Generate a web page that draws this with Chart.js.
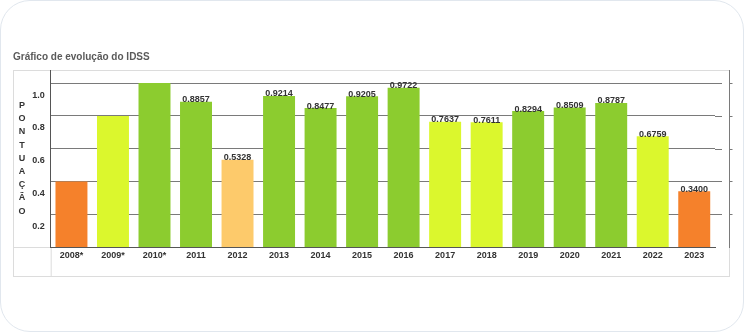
<!DOCTYPE html>
<html>
<head>
<meta charset="utf-8">
<script src="https://cdn.jsdelivr.net/npm/chart.js@4/dist/chart.umd.min.js"></script>
<style>
  html, body { margin: 0; background: #fff; }
  .card {
    position: absolute; left: 0; top: 0;
    width: 742px; height: 330px;
    border: 1px solid #e1e7ee; border-radius: 30px;
    background: #fff;
  }
  #wrap { position: absolute; left: 0; top: 0; width: 744px; height: 332px; }
</style>
</head>
<body>
<div class="card"></div>
<div id="wrap"><canvas id="idss"></canvas></div>
<script>
const anos = [
  "2008*", "2009*", "2010*", "2011", "2012", "2013", "2014", "2015",
  "2016", "2017", "2018", "2019", "2020", "2021", "2022", "2023",
];
const notas = [
  0.40, 0.80, 1.00, 0.8857, 0.5328, 0.9214, 0.8477, 0.9205,
  0.9722, 0.7637, 0.7611, 0.8294, 0.8509, 0.8787, 0.6759, 0.3400,
];
const faixas = [
  "laranja", "amarelo", "verde", "verde", "pessego", "verde", "verde", "verde",
  "verde", "amarelo", "amarelo", "verde", "verde", "verde", "amarelo", "laranja",
];
const yTicks = [0.2, 0.4, 0.6, 0.8, 1.0];
const eixoY = "PONTUAÇÃO";

const corFaixa = {
  laranja: "#f5812b",
  amarelo: "#dbf72d",
  verde: "#8ccc2f",
  pessego: "#fdca6b",
};

const fonte = { family: "'Liberation Sans', Arial, sans-serif", size: 9, weight: "bold" };
const fonteCss = "bold 9px 'Liberation Sans', Arial, sans-serif";

// moldura do painel, por baixo do grafico
const moldura = {
  id: "moldura",
  beforeDraw(chart) {
    const { ctx, chartArea: a } = chart;
    ctx.save();
    ctx.strokeStyle = "#dcdcdc";
    ctx.lineWidth = 1;
    ctx.strokeRect(13.5, a.top + 0.5, 716, 206);
    ctx.beginPath();
    ctx.moveTo(13.5, a.bottom + 0.5);
    ctx.lineTo(a.left, a.bottom + 0.5);
    ctx.moveTo(a.left + 0.5, a.bottom);
    ctx.lineTo(a.left + 0.5, 276.5);
    ctx.stroke();
    ctx.restore();
  },
  afterDraw(chart) {
    const { ctx, chartArea: a, scales } = chart;
    const y = scales.y;
    ctx.save();
    ctx.strokeStyle = "#7a7a7a";
    ctx.lineWidth = 1;
    ctx.beginPath();
    // linhas de grade passam um pouco da area das barras
    yTicks.forEach((v) => {
      const py = Math.round(y.getPixelForValue(v)) + 0.5;
      ctx.moveTo(a.right, py);
      ctx.lineTo(a.right + 7, py);
      ctx.moveTo(729.5, py);
      ctx.lineTo(732.5, py);
    });
    ctx.moveTo(729.5, a.top);
    ctx.lineTo(729.5, a.bottom + 1);
    ctx.stroke();

    // titulo vertical, uma letra por linha
    ctx.fillStyle = "#333";
    ctx.font = fonteCss;
    ctx.textAlign = "center";
    ctx.textBaseline = "middle";
    [...eixoY].forEach((ch, i) => ctx.fillText(ch, 22, 105.5 + i * 13.2));
    ctx.restore();
  },
  afterDatasetsDraw(chart) {
    const { ctx } = chart;
    const meta = chart.getDatasetMeta(0);
    ctx.save();
    ctx.fillStyle = "#333";
    ctx.font = fonteCss;
    ctx.textAlign = "center";
    ctx.textBaseline = "alphabetic";
    meta.data.forEach((bar, i) => {
      if (anos[i].endsWith("*")) return;
      ctx.fillText(notas[i].toFixed(4), bar.x, bar.y + 0.5);
    });
    ctx.restore();
  },
};

new Chart(document.getElementById("idss"), {
  type: "bar",
  data: {
    labels: anos,
    datasets: [{
      data: notas,
      backgroundColor: faixas.map((f) => corFaixa[f]),
      borderWidth: 0,
      barPercentage: 0.77,
      categoryPercentage: 1.0,
    }],
  },
  options: {
    responsive: true,
    maintainAspectRatio: false,
    animation: false,
    layout: { padding: { left: 13, right: 29, top: 51, bottom: 56 } },
    scales: {
      x: {
        offset: true,
        grid: { display: false, drawTicks: false },
        border: { color: "#555" },
        afterFit: (s) => { s.height = 29; },
        ticks: { padding: 3, color: "#333", font: fonte, maxRotation: 0, autoSkip: false },
      },
      y: {
        min: 0,
        max: 1.08,
        afterBuildTicks: (s) => { s.ticks = yTicks.map((v) => ({ value: v })); },
        afterFit: (s) => { s.width = 37.7; },
        grid: { color: "#7a7a7a", drawTicks: false },
        border: { color: "#555" },
        ticks: {
          padding: 6,
          labelOffset: 12,
          color: "#333",
          font: fonte,
          callback: (v) => v.toFixed(1),
        },
      },
    },
    plugins: {
      legend: { display: false },
      tooltip: { enabled: false },
      title: {
        display: true,
        text: "Gráfico de evolução do IDSS",
        align: "start",
        color: "#5a5a5a",
        padding: { top: 0, bottom: 7 },
        font: { family: "'Liberation Sans', Arial, sans-serif", size: 10, weight: "bold" },
      },
    },
  },
  plugins: [moldura],
});
</script>
</body>
</html>
